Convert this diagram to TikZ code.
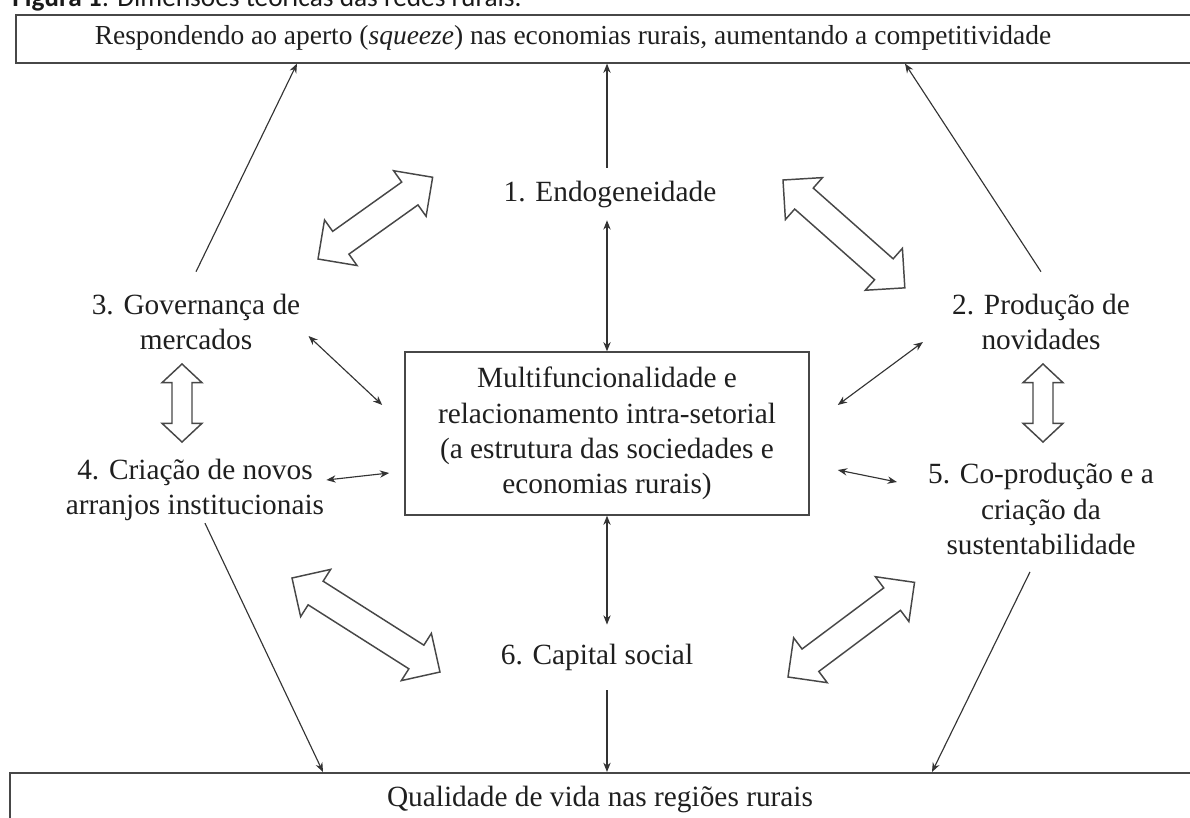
\documentclass[tikz,border=0pt]{standalone}
\usepackage{fontspec}
\setmainfont{Liberation Serif}
\newfontfamily\capfont{Carlito}
\usetikzlibrary{arrows.meta,calc}
\newcommand\hollowarrow[5]{%
  \path let \p1=(#1), \p2=(#2) in
    \pgfextra{\pgfmathsetmacro\hAngTmp{atan2(\y2-\y1,\x2-\x1)}%
      \pgfmathsetmacro\hLenTmp{veclen(\x2-\x1,\y2-\y1)}%
      \xdef\hAng{\hAngTmp}\xdef\hLen{\hLenTmp}\xdef\hX{\x1}\xdef\hY{\y1}};
  \draw[hollow, shift={(\hX,\hY)}, rotate=\hAng]
    (0pt,0pt) -- (#5,#4) -- (#5,#3) -- ({\hLen pt-#5},#3) -- ({\hLen pt-#5},#4)
    -- (\hLen pt,0pt) -- ({\hLen pt-#5},-#4) -- ({\hLen pt-#5},-#3)
    -- (#5,-#3) -- (#5,-#4) -- cycle;
}
\begin{document}
\begin{tikzpicture}[x=0.75pt,y=-0.75pt,
  txt/.style={font=\fontsize{22}{26.5}\selectfont, align=center, text=black!88, inner sep=0pt},
  boxline/.style={draw=black!72, line width=1.2pt},
  arr/.style={draw=black!80, line width=0.85pt, -{Stealth[length=7pt,width=5.5pt]}},
  darr/.style={draw=black!80, line width=0.85pt, {Stealth[length=7pt,width=5.5pt]}-{Stealth[length=7pt,width=5.5pt]}},
  hollow/.style={draw=black!72, line width=1.1pt, fill=white, line join=miter},
]
\useasboundingbox (0,0) rectangle (1190,818);
\clip (0,0) rectangle (1190,818);

% caption (cut at the top)
\node[anchor=base west, inner sep=0pt, font=\capfont\fontsize{20.5}{24}\selectfont, text=black!90] (caption) at (12,6)
  {\textbf{Figura 1}: Dimensões teóricas das redes rurais.};

% outer boxes
\node[boxline, anchor=north west, minimum width=896pt, minimum height=36pt, inner sep=0pt] (top) at (15,14) {};
\node[txt, font=\fontsize{20.6}{25}\selectfont] (toptext) at (573,38) {Respondendo ao aperto (\textit{squeeze}) nas economias rurais, aumentando a competitividade};
\node[boxline, anchor=north west, minimum width=900pt, minimum height=60pt, inner sep=0pt] (bot) at (9,772) {};
\node[txt] (bottext) at (600,799) {Qualidade de vida nas regiões rurais};

% central box
\node[txt, boxline, minimum width=303pt, minimum height=122pt] (cbox) at (607,433.5)
  {Multifuncionalidade e\\relacionamento intra-setorial\\(a estrutura das sociedades e\\economias rurais)};

% dimension nodes
\node[txt, minimum height=39pt] (endo) at (610,194) {1. Endogeneidade};
\node[txt, minimum height=49pt] (cap) at (597,657.5) {6. Capital social};
\node[txt, minimum height=75pt] (gov) at (196,322) {3. Governança de\\mercados};
\node[txt] (cria) at (195,490) {4. Criação de novos\\arranjos institucionais};
\node[txt, minimum height=75pt] (prod) at (1041,322) {2. Produção de\\novidades};
\node[txt] (coprod) at (1041,509) {5. Co-produção e a\\criação da\\sustentabilidade};

% thin connectors
\draw[arr] (endo.north -| cbox.north) -- (cbox.north |- top.south);
\draw[darr] (endo.south -| cbox.north) -- (cbox.north);
\draw[darr] (cbox.south) -- (cap.north -| cbox.south);
\draw[arr] (cap.south -| cbox.south) -- (cbox.south |- bot.north);
\draw[arr] (gov.north) -- (297,0 |- top.south);
\draw[arr] (prod.north) -- (905,0 |- top.south);
\draw[darr] ($(gov.east)+(8,14)$) -- ($(cbox.west)+(-22,-28.5)$);
\draw[darr] ($(cria.east)+(2,-10)$) -- ($(cbox.west)+(-15,39.5)$);
\draw[darr] ($(cbox.east)+(28,-28.5)$) -- ($(prod.west)+(-29,20)$);
\draw[darr] ($(cbox.east)+(28,36.5)$) -- ($(coprod.west)+(-31,-27)$);
\draw[arr] ($(cria.south)+(10,2)$) -- (323,0 |- bot.north);
\draw[arr] ($(coprod.south)+(-11,17)$) -- (932,0 |- bot.north);

% hollow double arrows
\coordinate (h1a) at (318,259); \coordinate (h1b) at (433,177);
\coordinate (h2a) at (783,180); \coordinate (h2b) at (905,288);
\coordinate (h3a) at (182,364); \coordinate (h3b) at (182,442);
\coordinate (h4a) at (1043,364); \coordinate (h4b) at (1043,442);
\coordinate (h5a) at (292,578); \coordinate (h5b) at (440,672);
\coordinate (h6a) at (788,677); \coordinate (h6b) at (915,582);
\hollowarrow{h1a}{h1b}{10.5pt}{21pt}{21pt}
\hollowarrow{h2a}{h2b}{10.5pt}{21pt}{21pt}
\hollowarrow{h3a}{h3b}{7.5pt}{15pt}{14pt}
\hollowarrow{h4a}{h4b}{7.5pt}{15pt}{14pt}
\hollowarrow{h5a}{h5b}{10.5pt}{21pt}{21pt}
\hollowarrow{h6a}{h6b}{10.5pt}{21pt}{21pt}
\end{tikzpicture}
\end{document}
